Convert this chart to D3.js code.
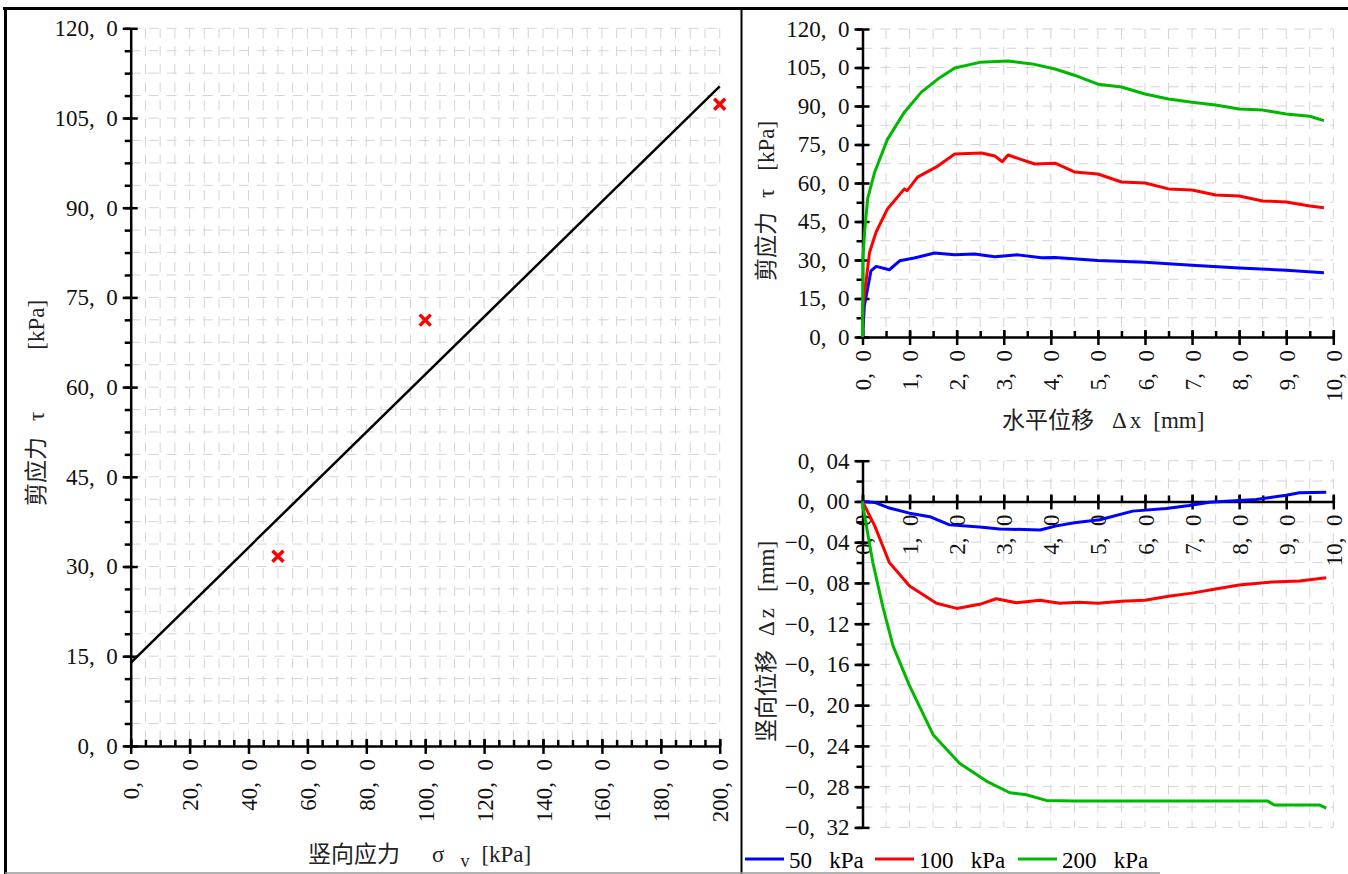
<!DOCTYPE html>
<html>
<head>
<meta charset="utf-8">
<script src="https://cdn.jsdelivr.net/npm/d3@7"></script>
<style>
  body { margin: 0; background: #fff; }
  svg { display: block; font-family: "Liberation Serif", "Noto Sans CJK SC", serif; }
  .grid line { stroke: #d4d4d4; stroke-width: 1; stroke-dasharray: 10,8; }
  .axis path, .axis line { stroke: #000; stroke-width: 2.5; }
  .axis text { font-size: 23px; fill: #111; font-family: "Liberation Serif", serif; white-space: pre; }
  .title { font-size: 23px; fill: #222; white-space: pre; }
</style>
</head>
<body>
<svg width="1348" height="874"></svg>
<script>
// ---- left chart: failure envelope
var sigmaV = [50, 100, 200];
var tauPeak = [31.7, 71.2, 107.3];
var fitSigma = [0, 200];
var fitTau = [13.9, 110.3];
var envXTicks = [0, 20, 40, 60, 80, 100, 120, 140, 160, 180, 200];
var envYTicks = [0, 15, 30, 45, 60, 75, 90, 105, 120];

// ---- right charts
var loads = ["50\u2002 kPa", "100\u2002 kPa", "200\u2002 kPa"];
var colors = ["#0000ff", "#ff0000", "#00b800"];
var dispTicks = [0, 1, 2, 3, 4, 5, 6, 7, 8, 9, 10];
var shearTicks = [0, 15, 30, 45, 60, 75, 90, 105, 120];
var settleTicks = [0.04, 0, -0.04, -0.08, -0.12, -0.16, -0.20, -0.24, -0.28, -0.32];

// [horizontal displacement mm, shear stress kPa]
var shear50 = [[0,0],[0.04,12.2],[0.18,25.8],[0.29,27.5],[0.57,26.2],[0.79,29.7],[1.1,30.8],[1.53,32.7],[1.96,32],[2.38,32.3],[2.81,31.3],[3.3,32],[3.8,30.9],[4.09,31],[5.0,29.8],[6.0,29.1],[7.0,28],[8.0,26.9],[9.0,26],[9.8,25]];
var shear100 = [[0,0],[0.01,11.7],[0.15,33],[0.29,40.9],[0.53,49.9],[0.89,57.7],[0.95,57],[1.17,62.3],[1.6,66.6],[1.96,71.3],[2.53,71.7],[2.81,70.5],[2.97,68.3],[3.09,70.9],[3.66,67.4],[4.09,67.7],[4.5,64.3],[5.0,63.5],[5.5,60.4],[6.0,60],[6.5,57.7],[7.0,57.3],[7.5,55.3],[8.0,54.9],[8.5,53],[9.0,52.6],[9.5,51],[9.8,50.4]];
var shear200 = [[0,0],[0.01,31],[0.05,42],[0.11,54],[0.26,64.3],[0.53,77],[0.89,87.6],[1.25,95.4],[1.6,100.5],[1.96,104.8],[2.49,107],[3.09,107.5],[3.6,106.4],[4.09,104.4],[4.5,102],[5.0,98.5],[5.5,97.4],[6.0,94.7],[6.5,92.7],[7.0,91.5],[7.5,90.4],[8.0,88.8],[8.5,88.4],[9.0,86.9],[9.5,86],[9.8,84.3]];

// [horizontal displacement mm, vertical displacement mm]
var settle50 = [[0,0],[0.26,-0.001],[0.57,-0.0065],[1.0,-0.0115],[1.43,-0.015],[1.85,-0.023],[2.49,-0.025],[2.91,-0.027],[3.77,-0.028],[4.12,-0.024],[4.5,-0.021],[5.04,-0.018],[5.74,-0.0095],[6.45,-0.007],[6.94,-0.004],[7.37,-0.0007],[8.0,0.001],[8.36,0.002],[9.0,0.006],[9.28,0.0085],[9.85,0.009]];
var settle100 = [[0,0],[0.26,-0.024],[0.57,-0.06],[1.0,-0.083],[1.57,-0.1],[2.0,-0.105],[2.49,-0.101],[2.84,-0.0955],[3.27,-0.0995],[3.77,-0.097],[4.19,-0.1],[4.6,-0.099],[5.0,-0.1],[5.5,-0.098],[6.0,-0.097],[6.5,-0.093],[7.0,-0.09],[7.5,-0.086],[8.0,-0.082],[8.7,-0.079],[9.28,-0.078],[9.85,-0.075]];
var settle200 = [[0,0],[0.01,-0.005],[0.22,-0.06],[0.43,-0.103],[0.65,-0.142],[1.0,-0.181],[1.5,-0.229],[2.06,-0.257],[2.63,-0.2745],[3.13,-0.286],[3.48,-0.288],[3.9,-0.2935],[4.5,-0.294],[5.0,-0.294],[6.0,-0.294],[7.0,-0.294],[8.0,-0.294],[8.6,-0.294],[8.75,-0.298],[9.7,-0.298],[9.85,-0.301]];

var svg = d3.select("svg");

function fmtComma(p) {
  var f = d3.format("." + p + "f");
  return function(v) { return f(v).replace(".", ",\u2002"); };
}

// draws grid + axes, x axis sits at y = 0
function drawFrame(x, y, xMajor, xStep, yMajor, yStep, xFmt, yFmt) {
  var g = svg.append("g");
  var xd = x.domain(), yd = y.domain();
  var xMinor = d3.range(xd[0], xd[1] + xStep / 2, xStep);
  var yMinor = d3.range(yd[0], yd[1] + yStep / 2, yStep);

  var grid = g.append("g").attr("class", "grid");
  grid.selectAll(".h").data(yMinor).enter().append("line")
      .attr("x1", x(xd[0])).attr("x2", x(xd[1]))
      .attr("y1", function(d) { return y(d); })
      .attr("y2", function(d) { return y(d); });
  grid.selectAll(".v").data(xMinor).enter().append("line")
      .attr("y1", y(yd[1])).attr("y2", y(yd[0]))
      .attr("x1", function(d) { return x(d); })
      .attr("x2", function(d) { return x(d); });

  // minor ticks
  g.append("g").attr("class", "axis")
      .attr("transform", "translate(" + x(0) + ",0)")
      .call(d3.axisLeft(y).tickValues(yMinor).tickSize(6).tickSizeOuter(0).tickFormat(""))
      .select(".domain").remove();
  g.append("g").attr("class", "axis")
      .attr("transform", "translate(0," + y(0) + ")")
      .call(d3.axisTop(x).tickValues(xMinor).tickSize(6).tickSizeOuter(0).tickFormat(""))
      .select(".domain").remove();

  // y axis
  var ya = g.append("g").attr("class", "axis")
      .attr("transform", "translate(" + x(0) + ",0)")
      .call(d3.axisLeft(y).tickValues(yMajor).tickSize(8).tickSizeOuter(0).tickPadding(5).tickFormat(yFmt));
  ya.selectAll(".tick line").attr("x1", 7);

  // x axis
  var xa = g.append("g").attr("class", "axis")
      .attr("transform", "translate(0," + y(0) + ")")
      .call(d3.axisBottom(x).tickValues(xMajor).tickSize(8).tickSizeOuter(0).tickFormat(xFmt));
  xa.selectAll(".tick line").attr("y1", -7);
  xa.selectAll(".tick text")
      .attr("transform", "rotate(-90)")
      .attr("text-anchor", "end")
      .attr("x", -13).attr("y", 0).attr("dy", "0.35em");
  return g;
}

// ---------- left chart
var xEnv = d3.scaleLinear().domain([0, 200]).range([130.7, 719.7]);
var yEnv = d3.scaleLinear().domain([0, 120]).range([745.9, 28.3]);
drawFrame(xEnv, yEnv, envXTicks, 5, envYTicks, 3.75, fmtComma(1), fmtComma(1));

svg.append("line")
    .attr("x1", xEnv(fitSigma[0])).attr("y1", yEnv(fitTau[0]))
    .attr("x2", xEnv(fitSigma[1])).attr("y2", yEnv(fitTau[1]))
    .attr("stroke", "#000").attr("stroke-width", 2.5);

var marks = svg.append("g").selectAll("g").data(sigmaV).enter().append("g")
    .attr("transform", function(d, i) { return "translate(" + xEnv(d) + "," + yEnv(tauPeak[i]) + ")"; });
marks.append("path")
    .attr("d", "M-5.5,-5.5L5.5,5.5M-5.5,5.5L5.5,-5.5")
    .attr("stroke", "#ff0000").attr("stroke-width", 3.5);

var yt = svg.append("text").attr("class", "title")
    .attr("transform", "translate(44,506) rotate(-90)");
yt.append("tspan").text("剪应力");
yt.append("tspan").attr("dx", 16).text("τ");
yt.append("tspan").attr("dx", 62).text("[kPa]");

var xt = svg.append("text").attr("class", "title")
    .attr("x", 308).attr("y", 862);
xt.append("tspan").text("竖向应力");
xt.append("tspan").attr("dx", 32).text("σ");
xt.append("tspan").attr("dx", 16).attr("dy", 5).attr("font-size", 18).text("v");
xt.append("tspan").attr("dx", 12).attr("dy", -5).text("[kPa]");

// ---------- right top
var xDisp = d3.scaleLinear().domain([0, 10]).range([862.5, 1333.3]);
var yShear = d3.scaleLinear().domain([0, 120]).range([337, 29]);
drawFrame(xDisp, yShear, dispTicks, 0.5, shearTicks, 7.5, fmtComma(1), fmtComma(1));

var line1 = d3.line().x(function(d) { return xDisp(d[0]); }).y(function(d) { return yShear(d[1]); });
svg.append("g").selectAll("path").data([shear50, shear100, shear200]).enter().append("path")
    .attr("d", line1).attr("fill", "none")
    .attr("stroke", function(d, i) { return colors[i]; })
    .attr("stroke-width", 3).attr("stroke-linejoin", "round");

var rt = svg.append("text").attr("class", "title")
    .attr("transform", "translate(774,281) rotate(-90)");
rt.append("tspan").text("剪应力");
rt.append("tspan").attr("dx", 14).text("τ");
rt.append("tspan").attr("dx", 18).text("[kPa]");

var dx = svg.append("text").attr("class", "title")
    .attr("x", 1002).attr("y", 428);
dx.append("tspan").text("水平位移");
dx.append("tspan").attr("dx", 18).text("Δ");
dx.append("tspan").attr("dx", 3).text("x");
dx.append("tspan").attr("dx", 12).text("[mm]");

// ---------- right bottom
var ySettle = d3.scaleLinear().domain([-0.32, 0.04]).range([827.4, 460.7]);
drawFrame(xDisp, ySettle, dispTicks, 0.5, settleTicks, 0.02, fmtComma(1), fmtComma(2));

var line2 = d3.line().x(function(d) { return xDisp(d[0]); }).y(function(d) { return ySettle(d[1]); });
svg.append("g").selectAll("path").data([settle50, settle100, settle200]).enter().append("path")
    .attr("d", line2).attr("fill", "none")
    .attr("stroke", function(d, i) { return colors[i]; })
    .attr("stroke-width", 3).attr("stroke-linejoin", "round");

var vt = svg.append("text").attr("class", "title")
    .attr("transform", "translate(774,742) rotate(-90)");
vt.append("tspan").text("竖向位移");
vt.append("tspan").attr("dx", 14).text("Δ");
vt.append("tspan").attr("dx", 3).text("z");
vt.append("tspan").attr("dx", 16).text("[mm]");

// ---------- legend
var legend = svg.append("g").selectAll("g").data(loads).enter().append("g")
    .attr("transform", function(d, i) { return "translate(" + [745, 875, 1018][i] + ",859)"; });
legend.append("line").attr("x1", 0).attr("x2", 39)
    .attr("stroke", function(d, i) { return colors[i]; }).attr("stroke-width", 3);
legend.append("text").attr("x", 44).attr("y", 9)
    .attr("font-size", 23).style("white-space", "pre")
    .text(function(d) { return d; });

// ---------- frame lines
svg.append("line").attr("x1", 3).attr("x2", 1348).attr("y1", 8.5).attr("y2", 8.5)
    .attr("stroke", "#000").attr("stroke-width", 3);
svg.append("line").attr("x1", 5.5).attr("x2", 5.5).attr("y1", 7).attr("y2", 874)
    .attr("stroke", "#000").attr("stroke-width", 3);
svg.append("line").attr("x1", 741.5).attr("x2", 741.5).attr("y1", 8).attr("y2", 874)
    .attr("stroke", "#000").attr("stroke-width", 2);
svg.append("line").attr("x1", 5).attr("x2", 1160).attr("y1", 873).attr("y2", 873)
    .attr("stroke", "#999").attr("stroke-width", 1.5);
</script>
</body>
</html>
